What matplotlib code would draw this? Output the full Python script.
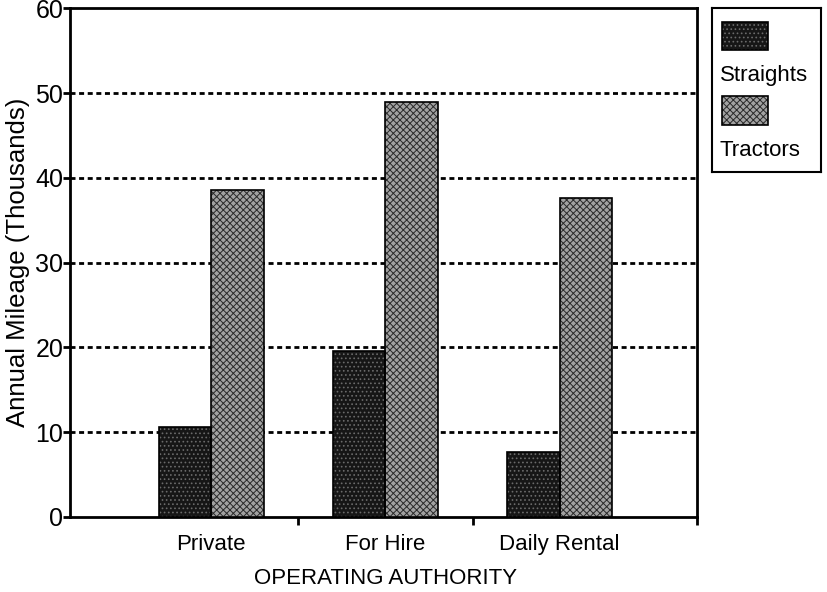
import numpy as np
import matplotlib
matplotlib.use('Agg')
import matplotlib.pyplot as plt
from matplotlib.patches import Rectangle

matplotlib.rcParams['font.family'] = ['Liberation Sans', 'DejaVu Sans']
matplotlib.rcParams['hatch.linewidth'] = 0.7

# 数据
categories = ['Private', 'For Hire', 'Daily Rental']
straights = [10.6, 19.6, 7.6]
tractors = [38.6, 49.0, 37.6]
series_names = ['Straights', 'Tractors']

STR_FACE, STR_HATCH = '#161616', '#6a6a6a'
TRA_FACE, TRA_HATCH = '#a2a2a2', '#2a2a2a'

fig = plt.figure(figsize=(8.27, 5.92), dpi=100)
ax = fig.add_axes([0.085, 0.127, 0.758, 0.859])

x = np.arange(len(categories))
w = 0.30

# 填充 + 网点纹理（hatch 颜色取 edgecolor）
ax.bar(x - w / 2, straights, w, color=STR_FACE, edgecolor=STR_HATCH,
       hatch='....', linewidth=0, zorder=3)
ax.bar(x + w / 2, tractors, w, color=TRA_FACE, edgecolor=TRA_HATCH,
       hatch='xxxxx', linewidth=0, zorder=3)
# 黑色边框
ax.bar(x - w / 2, straights, w, fill=False, edgecolor='black', linewidth=1.2, zorder=4)
ax.bar(x + w / 2, tractors, w, fill=False, edgecolor='black', linewidth=1.2, zorder=4)

ax.set_ylim(0, 60)
ax.set_xlim(-0.81, 2.79)
ax.set_yticks([0, 10, 20, 30, 40, 50, 60])
ax.set_xticks([0.5, 1.5, 2.79])
ax.set_xticklabels([])
for xi, name in zip(x, categories):
    ax.text(xi, -2.0, name, ha='center', va='top', fontsize=16)

for y in [10, 20, 30, 40, 50]:
    ax.axhline(y, color='black', linewidth=2, linestyle=(0, (1.8, 1.3)), zorder=1)

for s in ax.spines.values():
    s.set_linewidth(2)
ax.tick_params(axis='y', direction='out', length=5, width=2, labelsize=18, pad=0)
ax.tick_params(axis='x', direction='out', length=6, width=2)

ax.set_ylabel('Annual Mileage (Thousands)', fontsize=18.5, labelpad=4)
ax.text(1.0, -6.0, 'OPERATING AUTHORITY', ha='center', va='top', fontsize=16)

# 图例（手动绘制）
lax = fig.add_axes([712 / 827, 1 - 172 / 592, 109 / 827, 164 / 592])
lax.set_xlim(0, 109)
lax.set_ylim(164, 0)
lax.set_xticks([])
lax.set_yticks([])
for s in lax.spines.values():
    s.set_linewidth(1.5)
lax.add_patch(Rectangle((10, 14), 46, 28, facecolor=STR_FACE, edgecolor=STR_HATCH,
                        hatch='....', linewidth=0))
lax.add_patch(Rectangle((10, 14), 46, 28, fill=False, edgecolor='black', linewidth=1.2))
lax.text(8, 67, series_names[0], ha='left', va='center', fontsize=16)
lax.add_patch(Rectangle((10, 88), 46, 29, facecolor=TRA_FACE, edgecolor=TRA_HATCH,
                        hatch='xxxxx', linewidth=0))
lax.add_patch(Rectangle((10, 88), 46, 29, fill=False, edgecolor='black', linewidth=1.2))
lax.text(8, 142, series_names[1], ha='left', va='center', fontsize=16)

plt.savefig('out.png', dpi=100)
